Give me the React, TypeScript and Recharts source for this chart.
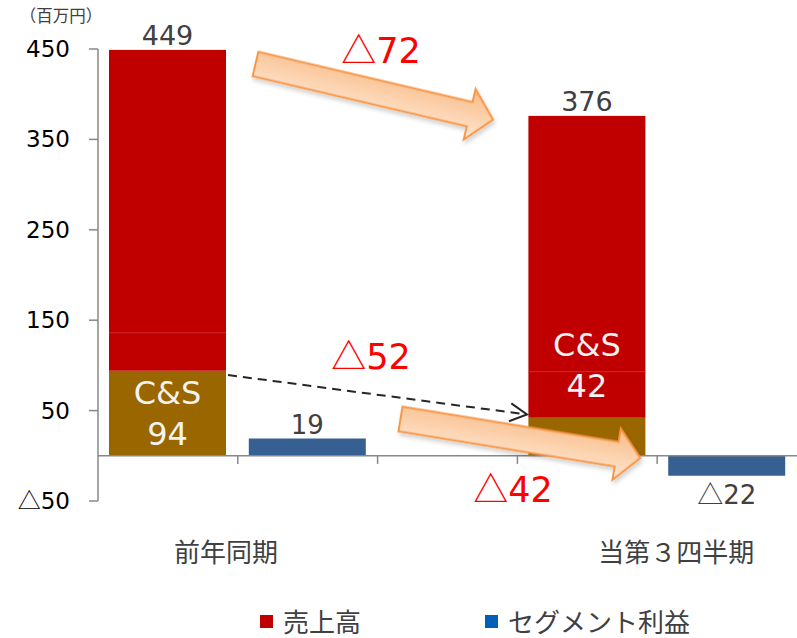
import React from 'react';
import { BarChart, Bar, XAxis, YAxis, ReferenceLine, LabelList } from 'recharts';

// category slots: each period has its sales bar, then its profit bar
const slots = ['前年同期', '前年同期_利益', '間隔', '当第３四半期', '当第３四半期_利益'];
const periodLabels = ['前年同期', '', '', '当第３四半期', ''];
const salesTotal = [449, null, null, 376, null];
const csSales = [94, null, null, 42, null];
const innerBoundary = [136, null, null, 93, null]; // faint segment line inside the red bar
const segmentProfit = [null, 19, null, null, -22];
const yTicks = [-50, 50, 150, 250, 350, 450];
const changes = [-72, -52, -42];

const data = slots.map((slot, i) => ({
  slot,
  cs: csSales[i],
  mid: innerBoundary[i] != null && csSales[i] != null ? innerBoundary[i]! - csSales[i]! : null,
  rest: salesTotal[i] != null && innerBoundary[i] != null ? salesTotal[i]! - innerBoundary[i]! : null,
  profit: segmentProfit[i],
}));

const FONT = "'DejaVu Sans', 'Noto Sans CJK JP', sans-serif";
const JP = "'Noto Sans CJK JP', sans-serif";
const RED = '#C00000';
const BROWN = '#996600';
const BLUE = '#376092';
const LABEL = '#404040';

const Num = ({ v }: { v: number }) => (
  <>
    {v < 0 && <tspan fontFamily={JP}>△</tspan>}
    <tspan>{Math.abs(v)}</tspan>
  </>
);

const YTick = ({ x, y, payload }: any) => (
  <text x={x} y={y} dy={8} textAnchor="end" fontFamily={FONT} fontSize={23} fill="#000">
    <Num v={payload.value} />
  </text>
);

const periodShift = [58, 0, 0, 89, 0];
const XTick = (props: any) => {
  const { x, y, payload } = props;
  const i = slots.indexOf(payload.value);
  const label = periodLabels[i];
  if (!label) return <g />;
  return (
    <text x={x + periodShift[i]} y={y + 61} textAnchor="middle" fontFamily={JP} fontSize={26} fill={LABEL}>
      {label}
    </text>
  );
};

// red top segment with the faint divider line at its bottom
const RestShape = (props: any) => {
  const { x, y, width, height } = props;
  if (!height) return null;
  return (
    <g>
      <rect x={x} y={y} width={width} height={height} fill={RED} />
      <line x1={x} x2={x + width} y1={y + height} y2={y + height} stroke="#CC2222" strokeWidth={1} />
    </g>
  );
};

// total label above the bar + "C&S" label, positioned from the rest segment geometry
const SalesLabel = (props: any) => {
  const { value, viewBox } = props;
  const i = slots.indexOf(value);
  const total = salesTotal[i];
  const cs = csSales[i];
  const inner = innerBoundary[i];
  if (i < 0 || total == null || cs == null || inner == null || !viewBox) return null;
  const { x, y, width, height } = viewBox;
  const top = Math.min(y, y + height);
  const bottom = Math.max(y, y + height);
  const ppu = (bottom - top) / (total - inner);
  const yOf = (v: number) => bottom + (inner - v) * ppu;
  const cx = x + width / 2;
  const csTop = yOf(cs);
  const csHeight = cs * ppu;
  const mid = csHeight >= 70 ? csTop + csHeight / 2 : csTop - 53;
  return (
    <g fontFamily={FONT}>
      <text x={cx} y={top - 5} textAnchor="middle" fontSize={27} fill={LABEL}>{total}</text>
      <text x={cx} y={mid - 9} textAnchor="middle" fontSize={32} fill="#F2F2F2">C&amp;S</text>
      <text x={cx} y={mid + 32} textAnchor="middle" fontSize={32} fill="#F2F2F2">{cs}</text>
    </g>
  );
};

const ProfitLabel = (props: any) => {
  const { value, viewBox } = props;
  const i = slots.indexOf(value);
  const v = segmentProfit[i];
  if (i < 0 || v == null || !viewBox) return null;
  const { x, y, width, height } = viewBox;
  const top = Math.min(y, y + height);
  const bottom = Math.max(y, y + height);
  const ty = v >= 0 ? top - 5 : bottom + 28;
  return (
    <text x={x + width / 2} y={ty} textAnchor="middle" fontFamily={FONT} fontSize={26} fill={LABEL}>
      <Num v={v} />
    </text>
  );
};

const BlockArrow = ({ x, y, angle, length }: { x: number; y: number; angle: number; length: number }) => {
  const h = length - 24;
  return (
    <g transform={`translate(${x} ${y}) rotate(${angle})`} filter="url(#soft)">
      <polygon
        points={`0,-12.5 ${h},-12.5 ${h},-26 ${length},0 ${h},26 ${h},12.5 0,12.5`}
        fill="url(#arrowFill)"
        stroke="#F79646"
        strokeWidth={2}
      />
    </g>
  );
};

const DashedArrow = ({ x1, y1, x2, y2 }: { x1: number; y1: number; x2: number; y2: number }) => {
  const len = Math.hypot(x2 - x1, y2 - y1);
  const dx = (x2 - x1) / len;
  const dy = (y2 - y1) / len;
  const bx = x2 - 17 * dx;
  const by = y2 - 17 * dy;
  return (
    <g stroke="#262626" strokeWidth={2} fill="none">
      <line x1={x1} y1={y1} x2={x2 - 3 * dx} y2={y2 - 3 * dy} strokeDasharray="9 6" />
      <polyline points={`${bx - 9 * dy},${by + 9 * dx} ${x2},${y2} ${bx + 9 * dy},${by - 9 * dx}`} />
    </g>
  );
};

const legendItems = [
  { label: '売上高', color: '#C00000', left: 260 },
  { label: 'セグメント利益', color: '#0060B8', left: 485 },
];

const App: React.FC = () => {
  return (
    <div style={{ position: 'absolute', left: 0, top: 0, width: 797, height: 638, background: '#fff', overflow: 'hidden' }}>
      <BarChart
        width={797}
        height={638}
        data={data}
        margin={{ top: 49, right: 0, bottom: 107, left: 0 }}
        barSize={117}
      >
        <XAxis
          dataKey="slot"
          axisLine={false}
          tickLine={false}
          tickSize={0}
          tickMargin={0}
          interval={0}
          height={30}
          tick={<XTick />}
        />
        <YAxis
          width={98}
          domain={[-50, 450]}
          ticks={yTicks}
          interval={0}
          axisLine={{ stroke: '#888888', strokeWidth: 1.5 }}
          tickLine={{ stroke: '#888888', strokeWidth: 1.5 }}
          tickSize={9}
          tickMargin={19}
          tick={<YTick />}
        />
        <Bar dataKey="cs" stackId="a" fill={BROWN} isAnimationActive={false} />
        <Bar dataKey="mid" stackId="a" fill={RED} isAnimationActive={false} />
        <Bar dataKey="rest" stackId="a" fill={RED} shape={<RestShape />} isAnimationActive={false}>
          <LabelList dataKey="slot" content={<SalesLabel />} />
        </Bar>
        <Bar dataKey="profit" stackId="a" fill={BLUE} isAnimationActive={false}>
          <LabelList dataKey="slot" content={<ProfitLabel />} />
        </Bar>
        <ReferenceLine y={0} stroke="#888888" strokeWidth={1.5} />
        {slots.slice(1).map((s) => (
          <ReferenceLine
            key={s}
            segment={[{ x: s, y: 0 }, { x: s, y: -9 }]}
            position="start"
            stroke="#888888"
            strokeWidth={1.5}
          />
        ))}
      </BarChart>

      <svg
        width={797}
        height={638}
        style={{ position: 'absolute', left: 0, top: 0, pointerEvents: 'none' }}
      >
        <defs>
          <linearGradient id="arrowFill" x1="0" y1="0" x2="0" y2="1">
            <stop offset="0" stopColor="#F9BA84" />
            <stop offset="0.55" stopColor="#FCD3B0" />
            <stop offset="1" stopColor="#FEE6D3" />
          </linearGradient>
          <filter id="soft" x="-10%" y="-50%" width="120%" height="200%">
            <feDropShadow dx="2" dy="3" stdDeviation="2" floodColor="#000" floodOpacity="0.18" />
          </filter>
        </defs>
        <text x={61} y={22} textAnchor="middle" fontFamily={JP} fontSize={16.5} fill={LABEL}>（百万円）</text>
        <BlockArrow x={255.5} y={64} angle={13.2} length={244} />
        <DashedArrow x1={228} y1={375} x2={527} y2={414.5} />
        <BlockArrow x={400.5} y={419} angle={9.25} length={243} />
        <g fontFamily={FONT} fontSize={35} fill="#FF0000" textAnchor="middle">
          <text x={381} y={63}><Num v={changes[0]} /></text>
          <text x={371} y={369}><Num v={changes[1]} /></text>
          <text x={513} y={502}><Num v={changes[2]} /></text>
        </g>
      </svg>

      {legendItems.map((it) => (
        <div
          key={it.label}
          style={{
            position: 'absolute',
            left: it.left,
            top: 605,
            display: 'flex',
            alignItems: 'center',
            fontFamily: JP,
            fontSize: 26,
            lineHeight: '32px',
            color: LABEL,
          }}
        >
          <span style={{ display: 'inline-block', width: 13, height: 13, background: it.color, marginRight: 10 }} />
          {it.label}
        </div>
      ))}
    </div>
  );
};

export default App;
